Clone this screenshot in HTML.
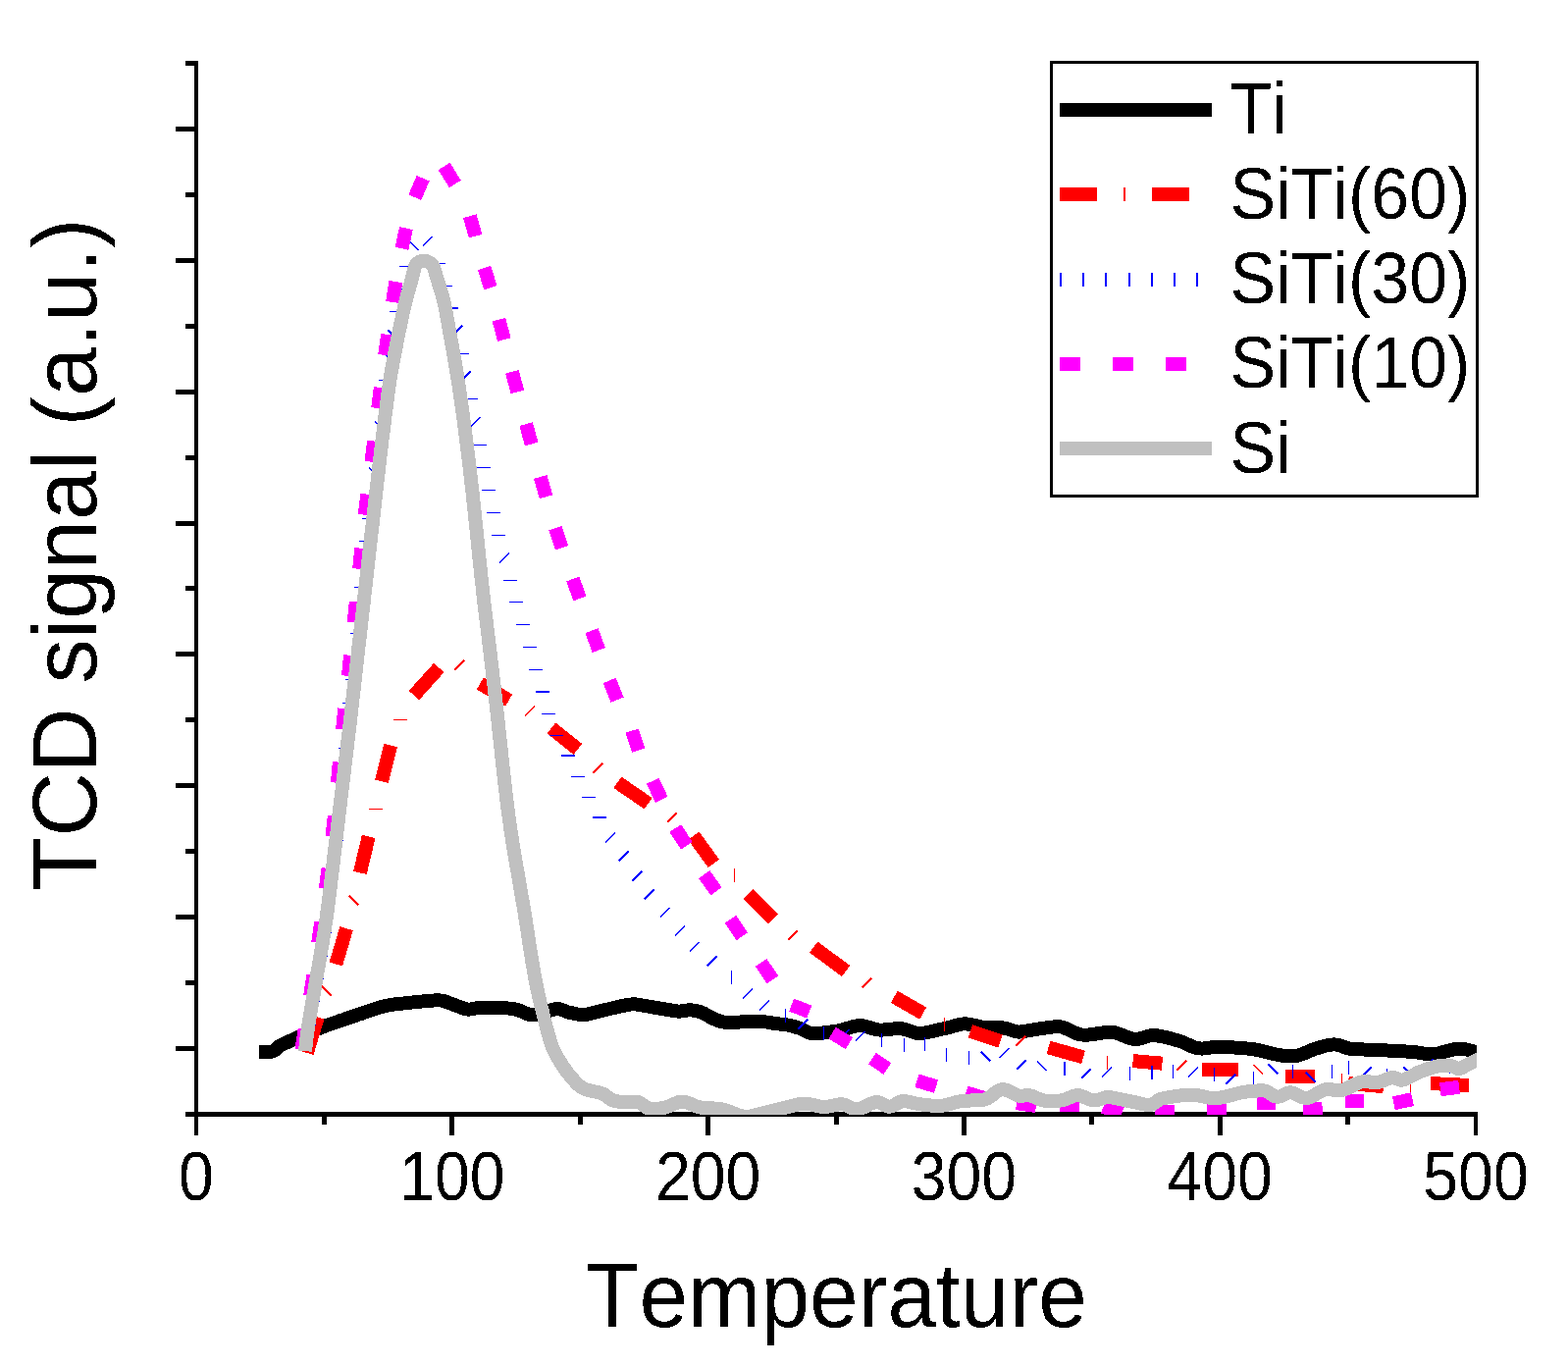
<!DOCTYPE html>
<html lang="en">
<head>
<meta charset="utf-8">
<title>TCD signal vs Temperature</title>
<style>
html,body{margin:0;padding:0;background:#fff;}
body{width:1598px;height:1392px;overflow:hidden;}
svg{display:block;font-family:"Liberation Sans", Arial, Helvetica, sans-serif;font-kerning:none;}
</style>
</head>
<body>
<svg width="1598" height="1392" viewBox="0 0 1598 1392">
<rect x="0" y="0" width="1598" height="1392" fill="#fff"/>
<defs><filter id="bin" x="-5%" y="-5%" width="110%" height="110%" color-interpolation-filters="sRGB"><feComponentTransfer><feFuncA type="discrete" tableValues="0 1"/></feComponentTransfer></filter></defs>
<g id="axes" shape-rendering="crispEdges"><rect x="198" y="62" width="4" height="1076" fill="#000"/><rect x="189" y="1133" width="1317" height="5" fill="#000"/><rect x="189" y="62" width="9" height="5" fill="#000"/><rect x="179" y="129" width="19" height="5" fill="#000"/><rect x="189" y="196" width="9" height="5" fill="#000"/><rect x="179" y="263" width="19" height="5" fill="#000"/><rect x="189" y="330" width="9" height="5" fill="#000"/><rect x="179" y="397" width="19" height="5" fill="#000"/><rect x="189" y="464" width="9" height="5" fill="#000"/><rect x="179" y="531" width="19" height="5" fill="#000"/><rect x="189" y="597" width="9" height="5" fill="#000"/><rect x="179" y="664" width="19" height="5" fill="#000"/><rect x="189" y="731" width="9" height="5" fill="#000"/><rect x="179" y="798" width="19" height="5" fill="#000"/><rect x="189" y="865" width="9" height="5" fill="#000"/><rect x="179" y="932" width="19" height="5" fill="#000"/><rect x="189" y="999" width="9" height="5" fill="#000"/><rect x="179" y="1066" width="19" height="5" fill="#000"/><rect x="189" y="1133" width="9" height="5" fill="#000"/><rect x="198" y="1138" width="4" height="19" fill="#000"/><rect x="328" y="1138" width="5" height="8" fill="#000"/><rect x="458" y="1138" width="5" height="19" fill="#000"/><rect x="589" y="1138" width="5" height="8" fill="#000"/><rect x="719" y="1138" width="5" height="19" fill="#000"/><rect x="850" y="1138" width="5" height="8" fill="#000"/><rect x="980" y="1138" width="5" height="19" fill="#000"/><rect x="1110" y="1138" width="5" height="8" fill="#000"/><rect x="1241" y="1138" width="5" height="19" fill="#000"/><rect x="1371" y="1138" width="5" height="8" fill="#000"/><rect x="1502" y="1138" width="4" height="19" fill="#000"/></g>
<g id="xticklabels" fill="#000" filter="url(#bin)"><text transform="translate(200.0 1222.6) scale(0.92 1)" text-anchor="middle" font-size="70">0</text><text transform="translate(460.8 1222.6) scale(0.92 1)" text-anchor="middle" font-size="70">100</text><text transform="translate(721.6 1222.6) scale(0.92 1)" text-anchor="middle" font-size="70">200</text><text transform="translate(982.4 1222.6) scale(0.92 1)" text-anchor="middle" font-size="70">300</text><text transform="translate(1243.2 1222.6) scale(0.92 1)" text-anchor="middle" font-size="70">400</text><text transform="translate(1504.0 1222.6) scale(0.92 1)" text-anchor="middle" font-size="70">500</text></g>
<g id="titles" fill="#000" filter="url(#bin)"><text transform="translate(596.98 1352.00) scale(0.9597 1)" font-size="93">Temperature</text><text transform="translate(98.00 908.06) rotate(-90) scale(0.9754 1)" font-size="93">TCD signal (a.u.)</text></g>
<defs><clipPath id="plotclip"><rect x="202" y="0" width="1303" height="1136"/></clipPath></defs>
<g id="data" clip-path="url(#plotclip)" shape-rendering="crispEdges" fill="none">
<path id="c-ti" d="M264 1072 L266 1072.1 L268 1072.1 L270 1072.1 L272 1072 L274 1071.9 L276 1071.7 L278 1071.3 L280 1070.2 L282 1068.3 L284 1066.5 L286 1065.4 L288 1064.4 L290 1063.4 L292 1062.5 L294 1061.5 L296 1060.6 L298 1059.7 L300 1058.8 L302 1057.9 L304 1057 L306 1056.2 L308 1055.3 L310 1054.4 L312 1053.5 L314 1052.7 L316 1051.8 L318 1051 L320 1050.2 L322 1049.3 L324 1048.5 L326 1047.7 L328 1046.9 L330 1046.1 L332 1045.3 L334 1044.6 L336 1043.9 L338 1043.2 L340 1042.5 L342 1041.8 L344 1041.1 L346 1040.4 L348 1039.7 L350 1039.1 L352 1038.4 L354 1037.7 L356 1037 L358 1036.4 L360 1035.7 L362 1035 L364 1034.3 L366 1033.6 L368 1033 L370 1032.3 L372 1031.6 L374 1030.9 L376 1030.3 L378 1029.6 L380 1028.9 L382 1028.3 L384 1027.6 L386 1026.9 L388 1026.3 L390 1025.7 L392 1025.2 L394 1024.8 L396 1024.4 L398 1024 L400 1023.7 L402 1023.5 L404 1023.2 L406 1023 L408 1022.8 L410 1022.6 L412 1022.4 L414 1022.2 L416 1021.9 L418 1021.7 L420 1021.5 L422 1021.3 L424 1021.1 L426 1020.9 L428 1020.7 L430 1020.5 L432 1020.3 L434 1020.1 L436 1019.9 L438 1019.8 L440 1019.6 L442 1019.5 L444 1019.4 L446 1019.4 L448 1019.4 L450 1019.6 L452 1020 L454 1020.6 L456 1021.4 L458 1022.1 L460 1022.9 L462 1023.6 L464 1024.4 L466 1025.1 L468 1025.9 L470 1026.7 L472 1027.4 L474 1028 L476 1028.5 L478 1028.6 L480 1028.4 L482 1028 L484 1027.6 L486 1027.3 L488 1027.2 L490 1027.1 L492 1027 L494 1026.9 L496 1026.8 L498 1026.8 L500 1026.7 L502 1026.7 L504 1026.7 L506 1026.7 L508 1026.8 L510 1026.9 L512 1027 L514 1027.1 L516 1027.3 L518 1027.5 L520 1027.7 L522 1028 L524 1028.3 L526 1028.7 L528 1029.2 L530 1030 L532 1030.9 L534 1031.8 L536 1032.7 L538 1033.4 L540 1034 L542 1034.3 L544 1034.2 L546 1033.9 L548 1033.4 L550 1032.9 L552 1032.3 L554 1031.8 L556 1031.2 L558 1030.6 L560 1029.9 L562 1029.3 L564 1028.7 L566 1028.3 L568 1028.1 L570 1028.3 L572 1028.8 L574 1029.5 L576 1030.3 L578 1031.1 L580 1031.7 L582 1032.1 L584 1032.5 L586 1032.9 L588 1033.4 L590 1033.7 L592 1034 L594 1034.1 L596 1034.1 L598 1033.7 L600 1033.3 L602 1032.8 L604 1032.3 L606 1031.9 L608 1031.3 L610 1030.8 L612 1030.3 L614 1029.8 L616 1029.3 L618 1028.8 L620 1028.4 L622 1027.9 L624 1027.4 L626 1027 L628 1026.5 L630 1026 L632 1025.6 L634 1025.1 L636 1024.7 L638 1024.2 L640 1023.9 L642 1023.6 L644 1023.4 L646 1023.4 L648 1023.4 L650 1023.7 L652 1024 L654 1024.4 L656 1024.7 L658 1025.1 L660 1025.4 L662 1025.8 L664 1026.1 L666 1026.5 L668 1026.8 L670 1027.2 L672 1027.5 L674 1027.8 L676 1028.2 L678 1028.5 L680 1028.8 L682 1029.2 L684 1029.5 L686 1029.8 L688 1030.2 L690 1030.5 L692 1030.6 L694 1030.5 L696 1030.2 L698 1029.8 L700 1029.5 L702 1029.3 L704 1029.4 L706 1029.5 L708 1029.8 L710 1030.2 L712 1030.7 L714 1031.3 L716 1032.1 L718 1033 L720 1034.2 L722 1035.4 L724 1036.5 L726 1037.6 L728 1038.5 L730 1039.2 L732 1040 L734 1040.7 L736 1041.2 L738 1041.6 L740 1041.7 L742 1041.7 L744 1041.7 L746 1041.6 L748 1041.6 L750 1041.6 L752 1041.5 L754 1041.5 L756 1041.4 L758 1041.4 L760 1041.4 L762 1041.3 L764 1041.3 L766 1041.3 L768 1041.3 L770 1041.2 L772 1041.2 L774 1041.2 L776 1041.2 L778 1041.2 L780 1041.4 L782 1041.6 L784 1041.9 L786 1042.3 L788 1042.7 L790 1043 L792 1043.2 L794 1043.5 L796 1043.7 L798 1043.9 L800 1044.1 L802 1044.4 L804 1044.7 L806 1045.2 L808 1045.7 L810 1046.3 L812 1047 L814 1047.6 L816 1048.3 L818 1049.1 L820 1050.1 L822 1051.2 L824 1052.1 L826 1052.8 L828 1053.1 L830 1053.2 L832 1053.2 L834 1053 L836 1052.8 L838 1052.5 L840 1052.3 L842 1052.1 L844 1051.8 L846 1051.6 L848 1051.3 L850 1051 L852 1050.8 L854 1050.5 L856 1050 L858 1049.5 L860 1049 L862 1048.3 L864 1047.7 L866 1047.1 L868 1046.5 L870 1046 L872 1045.6 L874 1045.2 L876 1045 L878 1045.1 L880 1045.4 L882 1045.8 L884 1046.4 L886 1047 L888 1047.7 L890 1048.3 L892 1048.9 L894 1049.3 L896 1049.5 L898 1049.5 L900 1049.5 L902 1049.3 L904 1049.2 L906 1048.9 L908 1048.7 L910 1048.5 L912 1048.3 L914 1048.2 L916 1048.2 L918 1048.2 L920 1048.5 L922 1048.9 L924 1049.5 L926 1050.2 L928 1050.9 L930 1051.6 L932 1052.3 L934 1052.8 L936 1053.1 L938 1053.2 L940 1053 L942 1052.6 L944 1052.3 L946 1051.9 L948 1051.4 L950 1051 L952 1050.5 L954 1050.1 L956 1049.6 L958 1049.1 L960 1048.6 L962 1048.2 L964 1047.7 L966 1047.2 L968 1046.7 L970 1046.1 L972 1045.6 L974 1045 L976 1044.5 L978 1044 L980 1043.6 L982 1043.4 L984 1043.4 L986 1043.5 L988 1043.8 L990 1044.2 L992 1044.6 L994 1045.1 L996 1045.6 L998 1046 L1000 1046.4 L1002 1046.6 L1004 1046.8 L1006 1046.9 L1008 1046.9 L1010 1047 L1012 1047 L1014 1047.1 L1016 1047.1 L1018 1047.2 L1020 1047.3 L1022 1047.4 L1024 1047.8 L1026 1048.3 L1028 1048.9 L1030 1049.6 L1032 1050.3 L1034 1050.9 L1036 1051.3 L1038 1051.6 L1040 1051.5 L1042 1051.2 L1044 1051 L1046 1050.6 L1048 1050.3 L1050 1050 L1052 1049.6 L1054 1049.3 L1056 1048.9 L1058 1048.6 L1060 1048.3 L1062 1048 L1064 1047.7 L1066 1047.4 L1068 1047.2 L1070 1046.9 L1072 1046.6 L1074 1046.4 L1076 1046.1 L1078 1046 L1080 1046.2 L1082 1046.6 L1084 1047.2 L1086 1048 L1088 1048.9 L1090 1049.9 L1092 1050.8 L1094 1051.8 L1096 1052.7 L1098 1053.4 L1100 1054 L1102 1054.4 L1104 1054.6 L1106 1054.7 L1108 1054.6 L1110 1054.5 L1112 1054.2 L1114 1054 L1116 1053.7 L1118 1053.3 L1120 1053 L1122 1052.7 L1124 1052.4 L1126 1052.1 L1128 1052 L1130 1051.9 L1132 1051.9 L1134 1052 L1136 1052.3 L1138 1052.8 L1140 1053.5 L1142 1054.2 L1144 1055 L1146 1055.9 L1148 1056.7 L1150 1057.4 L1152 1058.1 L1154 1058.6 L1156 1058.9 L1158 1058.9 L1160 1058.7 L1162 1058.3 L1164 1057.8 L1166 1057.1 L1168 1056.5 L1170 1055.9 L1172 1055.4 L1174 1055.1 L1176 1055 L1178 1055.1 L1180 1055.5 L1182 1055.8 L1184 1056.2 L1186 1056.6 L1188 1057.1 L1190 1057.5 L1192 1058 L1194 1058.6 L1196 1059.1 L1198 1059.7 L1200 1060.3 L1202 1060.9 L1204 1061.5 L1206 1062.3 L1208 1063.2 L1210 1064.1 L1212 1065 L1214 1066 L1216 1066.8 L1218 1067.5 L1220 1068 L1222 1068.4 L1224 1068.5 L1226 1068.5 L1228 1068.3 L1230 1068 L1232 1067.7 L1234 1067.4 L1236 1067.2 L1238 1067 L1240 1067 L1242 1067 L1244 1067.1 L1246 1067.1 L1248 1067.2 L1250 1067.2 L1252 1067.3 L1254 1067.4 L1256 1067.4 L1258 1067.5 L1260 1067.6 L1262 1067.7 L1264 1067.9 L1266 1068 L1268 1068.2 L1270 1068.4 L1272 1068.6 L1274 1068.8 L1276 1069 L1278 1069.3 L1280 1069.7 L1282 1070.1 L1284 1070.6 L1286 1071 L1288 1071.5 L1290 1072 L1292 1072.6 L1294 1073.1 L1296 1073.5 L1298 1074 L1300 1074.4 L1302 1074.8 L1304 1075.1 L1306 1075.5 L1308 1075.8 L1310 1076 L1312 1076.2 L1314 1076.3 L1316 1076.3 L1318 1076.2 L1320 1076 L1322 1075.7 L1324 1075.2 L1326 1074.5 L1328 1073.8 L1330 1073 L1332 1072.1 L1334 1071.2 L1336 1070.4 L1338 1069.6 L1340 1068.9 L1342 1068.3 L1344 1067.7 L1346 1067 L1348 1066.5 L1350 1065.9 L1352 1065.4 L1354 1065 L1356 1064.7 L1358 1064.5 L1360 1064.4 L1362 1064.6 L1364 1065 L1366 1065.6 L1368 1066.3 L1370 1067 L1372 1067.7 L1374 1068.3 L1376 1068.7 L1378 1068.9 L1380 1069 L1382 1069.1 L1384 1069.2 L1386 1069.3 L1388 1069.4 L1390 1069.5 L1392 1069.6 L1394 1069.7 L1396 1069.8 L1398 1069.9 L1400 1070 L1402 1070.1 L1404 1070.1 L1406 1070.2 L1408 1070.3 L1410 1070.4 L1412 1070.4 L1414 1070.5 L1416 1070.6 L1418 1070.7 L1420 1070.7 L1422 1070.8 L1424 1070.9 L1426 1071 L1428 1071.2 L1430 1071.3 L1432 1071.4 L1434 1071.6 L1436 1071.7 L1438 1071.9 L1440 1072 L1442 1072.2 L1444 1072.4 L1446 1072.7 L1448 1073.1 L1450 1073.4 L1452 1073.7 L1454 1074 L1456 1074.2 L1458 1074.3 L1460 1074.3 L1462 1074.2 L1464 1073.9 L1466 1073.4 L1468 1072.9 L1470 1072.3 L1472 1071.7 L1474 1071.2 L1476 1070.7 L1478 1070.3 L1480 1069.8 L1482 1069.3 L1484 1068.9 L1486 1068.7 L1488 1068.6 L1490 1068.7 L1492 1069 L1494 1069.4 L1496 1069.9 L1498 1070.4 L1500 1070.9 L1502 1071.4 L1504 1071.8 L1506 1072.2 L1508 1072.5 L1510 1072.7 L1512 1073" stroke="#000" stroke-width="14.0" stroke-linejoin="round"/>
<g id="c-siti60"><polygon points="306.1,1070.9 317.1,1034.5 330.5,1038.5 319.5,1074.9" fill="#f00"/><polygon points="335.6,980.5 346.4,944.1 359.8,948.1 349,984.5" fill="#f00"/><polygon points="360.1,887.8 368.9,850.8 382.5,854 373.7,891" fill="#f00"/><polygon points="382.2,794.6 391.4,757.8 405,761.2 395.8,798" fill="#f00"/><polygon points="416.7,703.9 442.1,675.7 452.5,685.1 427.1,713.3" fill="#f00"/><polygon points="492.8,690.5 522.2,707.5 515.2,719.7 485.8,702.7" fill="#f00"/><polygon points="566.3,736.5 593.3,758 584.5,768.9 557.5,747.4" fill="#f00"/><polygon points="633.3,791.5 664.6,813 656.7,824.5 625.4,803" fill="#f00"/><polygon points="712.5,847.5 733,875.8 721.7,884.1 701.2,855.8" fill="#f00"/><polygon points="767.4,906.4 792.9,931.9 783,941.8 757.5,916.3" fill="#f00"/><polygon points="833.3,959.5 866.2,983.9 857.9,995.1 825,970.7" fill="#f00"/><polygon points="914.7,1009.7 944.2,1026.5 937.3,1038.7 907.8,1021.9" fill="#f00"/><polygon points="991.2,1044.2 1021.6,1054.3 1017.2,1067.6 986.8,1057.5" fill="#f00"/><polygon points="1070.4,1060.7 1106,1070.7 1102.2,1084.1 1066.6,1074.1" fill="#f00"/><polygon points="1155.2,1074.1 1185.1,1076.7 1183.8,1090.7 1153.9,1088.1" fill="#f00"/><polygon points="1225,1083 1262,1083 1262,1097 1225,1097" fill="#f00"/><polygon points="1310.3,1089.5 1340.2,1090.5 1339.7,1104.5 1309.8,1103.5" fill="#f00"/><polygon points="1374.7,1097.1 1410.5,1100.2 1409.3,1114.1 1373.5,1111" fill="#f00"/><polygon points="1458.4,1097 1497.3,1099 1496.6,1113 1457.7,1111" fill="#f00"/><path d="M328 1005L337.8 1014.8M355.6 912.6L365.4 922.4M463.1 682.7L472.9 672.9M535.2 729.4L545 719.6M604.4 787.8L614.2 778M680.2 838.1L690 828.3M802.9 957.8L812.7 948M878.5 1006.3L888.3 996.5M1035.5 1065.7L1045.3 1055.9M1199.4 1090.8L1209.2 1081M1277.4 1085L1287.2 1094.8" stroke="#f00" stroke-width="1.9"/><path d="M376 824h14v1h-14zM401 733h14v1h-14zM748 885h1v14h-1zM962 1037h1v14h-1zM1128 1076h1v14h-1zM1367 1094h1v14h-1zM1437 1100h1v14h-1z" fill="#f00"/></g>
<g id="c-siti30"><path d="M395.2 336.1L405 345.9M391.5 359.4L401.4 369.2M382.3 429.7L392.2 439.6M376 476.6L385.9 486.5M416.5 245L426.3 254.8M430.7 250.6L440.5 240.8M461.6 341.4L471.4 331.6M470.1 387.9L479.9 378.1M479.8 434.9L489.6 425.1M509.2 573.5L519 563.7M617.1 858.2L626.9 848.4M630.9 877.2L640.7 867.4M644.4 897.7L654.2 887.9M656.7 916.2L666.5 906.4M672.9 934.7L682.7 924.9M688 953.5L697.8 943.7M703 969.8L712.8 960M721 984.1L730.8 974.3M757.1 1017.2L766.9 1007.4M774 1029.3L783.8 1019.5M813.4 1048.7L823.2 1038.9M855.9 1058.8L865.7 1049M872 1060.8L881.8 1051M999.7 1071.6L1009.5 1081.4M1018.5 1077.7L1028.3 1067.9M1036.1 1089.9L1045.9 1080.1M1057 1081.3L1066.8 1091.1M1102.1 1098.8L1111.9 1089M1123.1 1097.3L1132.9 1087.5M1210.9 1097.3L1220.7 1087.5M1249.5 1104.6L1259.3 1094.8M1292.4 1084.4L1302.2 1094.2M1330.8 1092.9L1340.6 1102.7M1388 1097.1L1397.8 1087.3M1430.1 1087.1L1439.9 1096.9M1450.7 1089.2L1460.5 1079.4" stroke="#00f" stroke-width="1.6"/><path d="M407 271h14v1h-14zM402 294h14v1h-14zM397 317h14v1h-14zM386 387h14v1h-14zM383 411h14v1h-14zM377 458h14v1h-14zM372 504h14v1h-14zM369 528h14v1h-14zM366 551h14v1h-14zM364 575h14v1h-14zM361 598h14v1h-14zM359 622h14v1h-14zM357 645h14v1h-14zM354 669h14v1h-14zM352 692h14v1h-14zM349 716h14v1h-14zM347 739h14v1h-14zM345 762h14v1h-14zM343 786h14v1h-14zM341 809h14v1h-14zM338 833h14v1h-14zM336 856h14v1h-14zM333 880h14v1h-14zM330 903h14v1h-14zM327 927h14v1h-14zM324 950h14v1h-14zM320 974h14v1h-14zM316 997h14v1h-14zM312 1020h14v1h-14zM308 1044h14v1h-14zM440 268h14v1h-14zM447 291h14v1h-14zM453 313h14v2h-14zM464 360h14v1h-14zM473 406h14v1h-14zM482 453h14v1h-14zM486 476h14v1h-14zM491 499h14v1h-14zM496 522h14v1h-14zM501 545h14v1h-14zM513 591h14v1h-14zM519 613h14v1h-14zM526 636h14v1h-14zM533 659h14v1h-14zM539 682h14v1h-14zM546 704h14v2h-14zM552 727h14v1h-14zM560 749h14v1h-14zM572 769h14v2h-14zM582 791h14v1h-14zM593 812h14v1h-14zM604 832h14v2h-14zM745 989h1v14h-1zM800 1028h1v14h-1zM839 1046h1v14h-1zM898 1053h1v14h-1zM921 1058h1v14h-1zM942 1057h1v14h-1zM964 1068h1v14h-1zM987 1071h1v14h-1zM1084 1082h2v14h-2zM1151 1087h1v14h-1zM1173 1086h2v14h-2zM1195 1085h1v14h-1zM1237 1088h1v14h-1zM1277 1092h1v14h-1zM1317 1085h1v14h-1zM1357 1085h1v14h-1zM1374 1081h1v14h-1zM1413 1089h1v14h-1zM1477 1080h1v14h-1z" fill="#00f"/></g>
<g id="c-siti10"><polygon points="300.5,1068.6 303.8,1047.6 317.7,1049.8 314.4,1070.8" fill="#f0f"/><polygon points="309.2,1013.9 312.4,993 326.2,995.1 323,1016" fill="#f0f"/><polygon points="317.3,959.8 320.3,938.8 334.1,940.8 331.1,961.8" fill="#f0f"/><polygon points="324.9,905 327.6,884 341.5,885.8 338.8,906.8" fill="#f0f"/><polygon points="331.6,851.6 333.9,830.5 347.8,832 345.5,853.1" fill="#f0f"/><polygon points="336.9,797.1 338.9,776 352.9,777.3 350.9,798.4" fill="#f0f"/><polygon points="342.2,742.5 344.3,721.4 358.2,722.9 356.1,744" fill="#f0f"/><polygon points="347.9,688.2 350.2,667.1 364.1,668.6 361.8,689.7" fill="#f0f"/><polygon points="353.7,633.7 355.8,612.6 369.7,614.1 367.6,635.2" fill="#f0f"/><polygon points="359.2,579.1 361.3,558 375.2,559.5 373.1,580.6" fill="#f0f"/><polygon points="364.8,523.9 367.3,502.9 381.2,504.5 378.7,525.5" fill="#f0f"/><polygon points="371.5,469.8 374.2,448.7 388.1,450.4 385.4,471.5" fill="#f0f"/><polygon points="378.2,415.1 380.9,394.1 394.8,395.9 392.1,416.9" fill="#f0f"/><polygon points="385.3,361 388.2,340 402.1,342 399.2,363" fill="#f0f"/><polygon points="393.2,306.9 396.4,286 410.2,288.1 407,309" fill="#f0f"/><polygon points="402.6,251.8 407.1,231.1 420.8,234 416.3,254.7" fill="#f0f"/><polygon points="416.4,198.4 424.7,178.9 437.6,184.4 429.3,203.9" fill="#f0f"/><polygon points="458.6,165.8 469.8,183.8 457.9,191.2 446.7,173.2" fill="#f0f"/><polygon points="485.6,218.3 491.4,238.7 477.9,242.5 472.1,222.1" fill="#f0f"/><polygon points="500.3,270.9 506.5,291.2 493.2,295.3 487,275" fill="#f0f"/><polygon points="515.2,323.8 520.6,344.3 507.1,347.9 501.7,327.4" fill="#f0f"/><polygon points="528.8,377.1 534.1,397.6 520.5,401.1 515.2,380.6" fill="#f0f"/><polygon points="542.9,430.3 548.4,450.7 534.9,454.4 529.4,434" fill="#f0f"/><polygon points="557.5,484 563.3,504.4 549.8,508.2 544,487.8" fill="#f0f"/><polygon points="572.6,536 579.2,556.1 565.9,560.4 559.3,540.3" fill="#f0f"/><polygon points="590.4,587.7 597.5,607.6 584.3,612.3 577.2,592.4" fill="#f0f"/><polygon points="609.6,640.2 616.9,660.1 603.7,665 596.4,645.1" fill="#f0f"/><polygon points="627.7,690.8 635.6,710.5 622.6,715.8 614.7,696.1" fill="#f0f"/><polygon points="650.7,742.5 657.3,762.6 644,766.9 637.4,746.8" fill="#f0f"/><polygon points="671.6,792.7 680.6,811.9 667.9,817.9 658.9,798.7" fill="#f0f"/><polygon points="694.1,840.2 705.7,858 694,865.6 682.4,847.8" fill="#f0f"/><polygon points="723.3,887 735.7,904.2 724.4,912.4 712,895.2" fill="#f0f"/><polygon points="750.2,932.8 762.1,950.4 750.5,958.2 738.6,940.6" fill="#f0f"/><polygon points="781.5,977.1 793.3,994.5 781.7,1002.3 769.9,984.9" fill="#f0f"/><polygon points="809.1,1017.6 827.3,1024.6 822.3,1037.6 804.1,1030.6" fill="#f0f"/><polygon points="851.8,1046.7 869,1057.1 861.8,1069.1 844.6,1058.7" fill="#f0f"/><polygon points="892.8,1072.8 908.2,1083.2 900.4,1094.8 885,1084.4" fill="#f0f"/><polygon points="936.5,1094.5 956.1,1100.5 952.1,1113.9 932.5,1107.9" fill="#f0f"/><polygon points="986.5,1106.6 1005.6,1112.4 1001.5,1125.8 982.4,1120" fill="#f0f"/><polygon points="1037.1,1117.3 1056.9,1120.1 1054.9,1133.9 1035.1,1131.1" fill="#f0f"/><polygon points="1080,1119.4 1100,1119.4 1100,1133.4 1080,1133.4" fill="#f0f"/><polygon points="1126.9,1121.2 1145.7,1128 1140.9,1141.2 1122.1,1134.4" fill="#f0f"/><polygon points="1177,1126 1197,1126 1197,1140 1177,1140" fill="#f0f"/><polygon points="1229.5,1125 1250,1125 1250,1139 1229.5,1139" fill="#f0f"/><polygon points="1281.2,1116.6 1300.2,1116.6 1300.2,1130.6 1281.2,1130.6" fill="#f0f"/><polygon points="1327.8,1123.5 1347.3,1122.5 1348,1136.5 1328.5,1137.5" fill="#f0f"/><polygon points="1370.9,1115.4 1389.8,1114.8 1390.3,1128.8 1371.4,1129.4" fill="#f0f"/><polygon points="1418.9,1117.4 1438,1113.3 1440.9,1127 1421.8,1131.1" fill="#f0f"/><polygon points="1467,1103.2 1486.3,1100.9 1488,1114.8 1468.7,1117.1" fill="#f0f"/></g>
<path id="c-si" d="M310.9 1071.1 L310.9 1070.2 L311.3 1068.8 L311.5 1066.8 L311.7 1064.8 L311.9 1062.8 L312.1 1060.8 L312.3 1058.8 L312.6 1056.9 L312.8 1054.9 L313.1 1052.9 L313.4 1050.9 L313.7 1048.9 L314 1046.9 L314.3 1045 L314.6 1043 L315 1041 L315.3 1039 L315.6 1037.1 L315.9 1035.1 L316.3 1033.1 L316.6 1031.1 L316.9 1029.2 L317.3 1027.2 L317.6 1025.2 L317.9 1023.2 L318.3 1021.3 L318.6 1019.3 L318.9 1017.3 L319.3 1015.4 L319.6 1013.4 L320 1011.4 L320.3 1009.4 L320.6 1007.5 L321 1005.5 L321.3 1003.5 L321.7 1001.5 L322 999.6 L322.4 997.6 L322.7 995.6 L323 993.7 L323.4 991.7 L323.7 989.7 L324.1 987.7 L324.4 985.8 L324.8 983.8 L325.1 981.8 L325.4 979.8 L325.8 977.9 L326.1 975.9 L326.5 973.9 L326.8 971.9 L327.1 970 L327.5 968 L327.8 966 L328.1 964 L328.5 962.1 L328.8 960.1 L329.1 958.1 L329.4 956.1 L329.7 954.2 L330.1 952.2 L330.4 950.2 L330.7 948.2 L331 946.3 L331.3 944.3 L331.6 942.3 L331.9 940.3 L332.2 938.3 L332.5 936.4 L332.7 934.4 L333 932.4 L333.3 930.4 L333.6 928.4 L333.8 926.4 L334.1 924.4 L334.3 922.5 L334.6 920.5 L334.8 918.5 L335.1 916.5 L335.3 914.5 L335.6 912.5 L335.8 910.5 L336.1 908.6 L336.3 906.6 L336.6 904.6 L336.8 902.6 L337 900.6 L337.3 898.6 L337.5 896.6 L337.8 894.6 L338 892.7 L338.3 890.7 L338.5 888.7 L338.7 886.7 L339 884.7 L339.2 882.7 L339.5 880.7 L339.7 878.7 L339.9 876.7 L340.2 874.8 L340.4 872.8 L340.6 870.8 L340.9 868.8 L341.1 866.8 L341.4 864.8 L341.6 862.8 L341.8 860.8 L342.1 858.9 L342.3 856.9 L342.5 854.9 L342.8 852.9 L343 850.9 L343.3 848.9 L343.5 846.9 L343.7 844.9 L344 843 L344.2 841 L344.4 839 L344.7 837 L344.9 835 L345.1 833 L345.4 831 L345.6 829 L345.9 827 L346.1 825.1 L346.3 823.1 L346.6 821.1 L346.8 819.1 L347 817.1 L347.3 815.1 L347.5 813.1 L347.7 811.1 L348 809.2 L348.2 807.2 L348.5 805.2 L348.7 803.2 L348.9 801.2 L349.2 799.2 L349.4 797.2 L349.6 795.2 L349.9 793.2 L350.1 791.3 L350.4 789.3 L350.6 787.3 L350.8 785.3 L351.1 783.3 L351.3 781.3 L351.6 779.3 L351.8 777.3 L352 775.4 L352.3 773.4 L352.5 771.4 L352.8 769.4 L353 767.4 L353.2 765.4 L353.5 763.4 L353.7 761.4 L354 759.5 L354.2 757.5 L354.4 755.5 L354.7 753.5 L354.9 751.5 L355.2 749.5 L355.4 747.5 L355.6 745.5 L355.9 743.5 L356.1 741.6 L356.3 739.6 L356.6 737.6 L356.8 735.6 L357 733.6 L357.2 731.6 L357.5 729.6 L357.7 727.6 L357.9 725.6 L358.2 723.7 L358.4 721.7 L358.6 719.7 L358.8 717.7 L359.1 715.7 L359.3 713.7 L359.5 711.7 L359.7 709.7 L360 707.7 L360.2 705.8 L360.4 703.8 L360.7 701.8 L360.9 699.8 L361.1 697.8 L361.3 695.8 L361.6 693.8 L361.8 691.8 L362 689.8 L362.2 687.8 L362.5 685.9 L362.7 683.9 L362.9 681.9 L363.1 679.9 L363.4 677.9 L363.6 675.9 L363.8 673.9 L364 671.9 L364.3 669.9 L364.5 668 L364.7 666 L364.9 664 L365.2 662 L365.4 660 L365.6 658 L365.9 656 L366.1 654 L366.3 652 L366.5 650.1 L366.8 648.1 L367 646.1 L367.2 644.1 L367.4 642.1 L367.7 640.1 L367.9 638.1 L368.1 636.1 L368.3 634.1 L368.6 632.1 L368.8 630.2 L369 628.2 L369.2 626.2 L369.5 624.2 L369.7 622.2 L369.9 620.2 L370.1 618.2 L370.4 616.2 L370.6 614.2 L370.8 612.2 L371 610.3 L371.3 608.3 L371.5 606.3 L371.7 604.3 L371.9 602.3 L372.2 600.3 L372.4 598.3 L372.6 596.3 L372.8 594.3 L373.1 592.4 L373.3 590.4 L373.5 588.4 L373.7 586.4 L373.9 584.4 L374.2 582.4 L374.4 580.4 L374.6 578.4 L374.8 576.4 L375.1 574.4 L375.3 572.5 L375.5 570.5 L375.7 568.5 L376 566.5 L376.2 564.5 L376.4 562.5 L376.6 560.5 L376.9 558.5 L377.1 556.5 L377.3 554.5 L377.5 552.6 L377.8 550.6 L378 548.6 L378.2 546.6 L378.4 544.6 L378.7 542.6 L378.9 540.6 L379.1 538.6 L379.3 536.6 L379.6 534.7 L379.8 532.7 L380 530.7 L380.2 528.7 L380.5 526.7 L380.7 524.7 L380.9 522.7 L381.1 520.7 L381.4 518.7 L381.6 516.7 L381.8 514.8 L382 512.8 L382.3 510.8 L382.5 508.8 L382.7 506.8 L382.9 504.8 L383.2 502.8 L383.4 500.8 L383.6 498.8 L383.8 496.9 L384.1 494.9 L384.3 492.9 L384.5 490.9 L384.7 488.9 L385 486.9 L385.2 484.9 L385.4 482.9 L385.7 480.9 L385.9 478.9 L386.1 477 L386.3 475 L386.6 473 L386.8 471 L387 469 L387.3 467 L387.5 465 L387.7 463 L388 461.1 L388.2 459.1 L388.5 457.1 L388.7 455.1 L388.9 453.1 L389.2 451.1 L389.4 449.1 L389.6 447.1 L389.9 445.1 L390.1 443.2 L390.4 441.2 L390.6 439.2 L390.9 437.2 L391.1 435.2 L391.4 433.2 L391.6 431.2 L391.8 429.3 L392.1 427.3 L392.3 425.3 L392.6 423.3 L392.8 421.3 L393.1 419.3 L393.4 417.3 L393.6 415.3 L393.9 413.4 L394.1 411.4 L394.4 409.4 L394.6 407.4 L394.9 405.4 L395.1 403.4 L395.4 401.4 L395.7 399.5 L395.9 397.5 L396.2 395.5 L396.5 393.5 L396.8 391.5 L397.1 389.6 L397.4 387.6 L397.7 385.6 L398.1 383.6 L398.4 381.6 L398.7 379.7 L399.1 377.7 L399.4 375.7 L399.8 373.8 L400.1 371.8 L400.5 369.8 L400.9 367.8 L401.2 365.9 L401.6 363.9 L402 361.9 L402.3 360 L402.7 358 L403.1 356 L403.5 354.1 L403.9 352.1 L404.2 350.1 L404.6 348.2 L405 346.2 L405.4 344.2 L405.8 342.3 L406.2 340.3 L406.6 338.4 L407 336.4 L407.4 334.4 L407.8 332.5 L408.2 330.5 L408.6 328.6 L409 326.6 L409.5 324.6 L409.9 322.7 L410.3 320.7 L410.7 318.8 L411.2 316.8 L411.6 314.9 L412.1 312.9 L412.5 311 L413 309 L413.5 307.1 L414 305.1 L414.5 303.2 L415 301.3 L415.5 299.3 L416.1 297.4 L416.6 295.5 L417.2 293.5 L417.7 291.6 L418.2 289.7 L418.8 287.8 L419.3 285.8 L419.8 283.9 L420.3 282 L420.7 280 L421.2 278.1 L421.7 276.1 L422.2 274.2 L422.7 272.2 L423.5 270.4 L424.7 268.9 L426.3 267.4 L428.2 266.4 L430.2 265.9 L432.1 265.8 L434 266 L435.9 266.6 L437.9 267.6 L439.6 268.9 L441 270.3 L441.9 272 L442.5 274 L443.1 275.9 L443.7 277.8 L444.2 279.7 L444.8 281.6 L445.4 283.6 L445.9 285.5 L446.5 287.4 L447.1 289.3 L447.7 291.2 L448.3 293.1 L448.9 295 L449.5 296.9 L450.1 298.9 L450.6 300.8 L451.2 302.7 L451.7 304.6 L452.2 306.6 L452.7 308.5 L453.1 310.5 L453.5 312.4 L453.9 314.4 L454.3 316.4 L454.6 318.3 L454.9 320.3 L455.3 322.3 L455.6 324.3 L456 326.2 L456.4 328.2 L456.7 330.2 L457.1 332.2 L457.4 334.1 L457.8 336.1 L458.2 338.1 L458.5 340 L458.9 342 L459.2 344 L459.6 345.9 L459.9 347.9 L460.3 349.9 L460.7 351.9 L461 353.8 L461.4 355.8 L461.7 357.8 L462.1 359.7 L462.4 361.7 L462.8 363.7 L463.1 365.7 L463.4 367.6 L463.8 369.6 L464.1 371.6 L464.4 373.5 L464.8 375.5 L465.1 377.5 L465.4 379.5 L465.8 381.4 L466.1 383.4 L466.4 385.4 L466.7 387.4 L467 389.4 L467.3 391.3 L467.6 393.3 L467.9 395.3 L468.2 397.3 L468.5 399.3 L468.8 401.2 L469.1 403.2 L469.3 405.2 L469.6 407.2 L469.9 409.2 L470.2 411.2 L470.5 413.1 L470.7 415.1 L471 417.1 L471.3 419.1 L471.6 421.1 L471.8 423.1 L472.1 425 L472.4 427 L472.6 429 L472.9 431 L473.1 433 L473.4 435 L473.7 437 L473.9 438.9 L474.2 440.9 L474.4 442.9 L474.7 444.9 L475 446.9 L475.2 448.9 L475.5 450.9 L475.7 452.8 L476 454.8 L476.2 456.8 L476.4 458.8 L476.7 460.8 L476.9 462.8 L477.2 464.8 L477.4 466.8 L477.7 468.7 L477.9 470.7 L478.1 472.7 L478.4 474.7 L478.6 476.7 L478.8 478.7 L479.1 480.7 L479.3 482.7 L479.5 484.6 L479.8 486.6 L480 488.6 L480.2 490.6 L480.4 492.6 L480.7 494.6 L480.9 496.6 L481.1 498.6 L481.3 500.6 L481.6 502.6 L481.8 504.5 L482 506.5 L482.2 508.5 L482.4 510.5 L482.6 512.5 L482.9 514.5 L483.1 516.5 L483.3 518.5 L483.5 520.5 L483.7 522.5 L483.9 524.5 L484.1 526.4 L484.3 528.4 L484.5 530.4 L484.7 532.4 L484.9 534.4 L485.2 536.4 L485.4 538.4 L485.6 540.4 L485.8 542.4 L486 544.4 L486.2 546.4 L486.4 548.4 L486.6 550.3 L486.8 552.3 L487 554.3 L487.2 556.3 L487.4 558.3 L487.6 560.3 L487.8 562.3 L488 564.3 L488.2 566.3 L488.4 568.3 L488.6 570.3 L488.9 572.3 L489.1 574.2 L489.3 576.2 L489.5 578.2 L489.7 580.2 L489.9 582.2 L490.1 584.2 L490.3 586.2 L490.5 588.2 L490.7 590.2 L491 592.2 L491.2 594.2 L491.4 596.1 L491.6 598.1 L491.8 600.1 L492.1 602.1 L492.3 604.1 L492.5 606.1 L492.7 608.1 L493 610.1 L493.2 612.1 L493.4 614.1 L493.6 616 L493.9 618 L494.1 620 L494.3 622 L494.6 624 L494.8 626 L495.1 628 L495.3 630 L495.5 631.9 L495.8 633.9 L496 635.9 L496.3 637.9 L496.5 639.9 L496.7 641.9 L497 643.9 L497.2 645.9 L497.5 647.8 L497.7 649.8 L498 651.8 L498.2 653.8 L498.4 655.8 L498.7 657.8 L498.9 659.8 L499.2 661.8 L499.4 663.7 L499.6 665.7 L499.9 667.7 L500.1 669.7 L500.3 671.7 L500.6 673.7 L500.8 675.7 L501 677.7 L501.3 679.7 L501.5 681.6 L501.7 683.6 L502 685.6 L502.2 687.6 L502.4 689.6 L502.7 691.6 L502.9 693.6 L503.1 695.6 L503.4 697.6 L503.6 699.5 L503.8 701.5 L504 703.5 L504.3 705.5 L504.5 707.5 L504.7 709.5 L504.9 711.5 L505.2 713.5 L505.4 715.5 L505.6 717.5 L505.8 719.4 L506.1 721.4 L506.3 723.4 L506.5 725.4 L506.7 727.4 L506.9 729.4 L507.1 731.4 L507.4 733.4 L507.6 735.4 L507.8 737.4 L508 739.3 L508.2 741.3 L508.4 743.3 L508.6 745.3 L508.9 747.3 L509.1 749.3 L509.3 751.3 L509.5 753.3 L509.7 755.3 L509.9 757.3 L510.1 759.3 L510.3 761.2 L510.6 763.2 L510.8 765.2 L511 767.2 L511.2 769.2 L511.4 771.2 L511.6 773.2 L511.8 775.2 L512.1 777.2 L512.3 779.2 L512.5 781.2 L512.7 783.1 L512.9 785.1 L513.1 787.1 L513.4 789.1 L513.6 791.1 L513.8 793.1 L514 795.1 L514.2 797.1 L514.5 799.1 L514.7 801.1 L514.9 803 L515.2 805 L515.4 807 L515.6 809 L515.9 811 L516.1 813 L516.3 815 L516.6 817 L516.8 818.9 L517.1 820.9 L517.3 822.9 L517.6 824.9 L517.8 826.9 L518.1 828.9 L518.4 830.9 L518.6 832.8 L518.9 834.8 L519.2 836.8 L519.5 838.8 L519.7 840.8 L520 842.8 L520.3 844.7 L520.6 846.7 L520.9 848.7 L521.2 850.7 L521.5 852.7 L521.8 854.6 L522.1 856.6 L522.4 858.6 L522.7 860.6 L523.1 862.6 L523.4 864.5 L523.7 866.5 L524 868.5 L524.4 870.5 L524.7 872.4 L525 874.4 L525.3 876.4 L525.7 878.4 L526 880.3 L526.3 882.3 L526.7 884.3 L527 886.3 L527.4 888.2 L527.7 890.2 L528 892.2 L528.4 894.1 L528.7 896.1 L529.1 898.1 L529.4 900.1 L529.7 902 L530.1 904 L530.4 906 L530.8 908 L531.1 909.9 L531.4 911.9 L531.8 913.9 L532.1 915.9 L532.5 917.8 L532.8 919.8 L533.1 921.8 L533.5 923.7 L533.8 925.7 L534.1 927.7 L534.5 929.7 L534.8 931.6 L535.1 933.6 L535.4 935.6 L535.8 937.6 L536.1 939.6 L536.4 941.5 L536.7 943.5 L537 945.5 L537.3 947.5 L537.6 949.4 L537.9 951.4 L538.2 953.4 L538.5 955.4 L538.8 957.4 L539.1 959.3 L539.4 961.3 L539.7 963.3 L540 965.3 L540.3 967.3 L540.6 969.2 L540.9 971.2 L541.2 973.2 L541.6 975.2 L541.9 977.1 L542.2 979.1 L542.5 981.1 L542.9 983.1 L543.2 985 L543.6 987 L543.9 989 L544.3 991 L544.6 992.9 L545 994.9 L545.3 996.9 L545.7 998.8 L546.1 1000.8 L546.5 1002.8 L546.8 1004.7 L547.2 1006.7 L547.6 1008.7 L548.1 1010.6 L548.5 1012.6 L548.9 1014.5 L549.4 1016.5 L549.8 1018.4 L550.3 1020.4 L550.7 1022.3 L551.2 1024.3 L551.7 1026.2 L552.2 1028.2 L552.7 1030.1 L553.1 1032 L553.6 1034 L554.1 1035.9 L554.6 1037.9 L555.1 1039.8 L555.6 1041.8 L556.1 1043.7 L556.5 1045.7 L557 1047.6 L557.6 1049.5 L558.1 1051.5 L558.6 1053.4 L559.2 1055.3 L559.7 1057.2 L560.3 1059.1 L560.9 1061 L561.5 1063 L562.2 1064.9 L562.8 1066.8 L563.6 1068.6 L564.4 1070.5 L565.2 1072.3 L566.2 1074 L567.1 1075.8 L568.1 1077.5 L569.2 1079.3 L570.2 1081 L571.3 1082.7 L572.3 1084.4 L573.4 1086 L574.6 1087.7 L575.7 1089.4 L576.8 1091 L578 1092.6 L579.3 1094.2 L580.5 1095.8 L581.8 1097.3 L583.1 1098.8 L584.4 1100.3 L585.7 1101.8 L587.1 1103.3 L588.5 1104.7 L590 1106.1 L591.6 1107.3 L593.3 1108.4 L595.1 1109.3 L597 1110.1 L598.9 1110.7 L600.8 1111.2 L602.8 1111.7 L604.7 1112.2 L606.7 1112.6 L608.6 1113 L610.6 1113.4 L612.5 1113.9 L614.4 1114.6 L616.1 1115.6 L617.7 1116.7 L619.4 1118 L621 1119.2 L622.7 1120.3 L624.5 1121.2 L626.4 1121.8 L628.4 1122.2 L630.4 1122.6 L632.4 1122.8 L634.4 1123 L636.4 1123.2 L638.3 1123.3 L640.3 1123.3 L642.3 1123.1 L644.4 1122.8 L646.4 1122.7 L648.3 1122.7 L650.3 1123 L652.1 1123.8 L653.9 1124.9 L655.6 1126.1 L657.3 1127.4 L659 1128.5 L660.7 1129.4 L662.6 1129.8 L664.6 1129.9 L666.6 1130 L668.6 1129.9 L670.6 1129.7 L672.7 1129.5 L674.7 1129.2 L676.6 1128.9 L678.5 1128.5 L680.4 1127.8 L682.3 1127.1 L684.2 1126.2 L686.1 1125.3 L688 1124.5 L689.9 1123.7 L691.8 1123.1 L693.7 1122.8 L695.6 1122.7 L697.5 1122.9 L699.4 1123.4 L701.3 1124 L703.2 1124.7 L705.1 1125.5 L707.1 1126.3 L709 1127.1 L710.9 1127.8 L712.8 1128.3 L714.8 1128.7 L716.7 1128.9 L718.7 1129 L720.7 1129.2 L722.7 1129.3 L724.8 1129.4 L726.8 1129.4 L728.8 1129.6 L730.8 1129.7 L732.8 1129.9 L734.7 1130.1 L736.7 1130.5 L738.6 1131 L740.6 1131.7 L742.5 1132.4 L744.5 1133.2 L746.4 1133.9 L748.4 1134.7 L750.3 1135.5 L752.3 1136.2 L754.2 1136.8 L756.1 1137.3 L758.1 1137.7 L760 1137.9 L762 1137.9 L763.9 1137.7 L765.9 1137.3 L767.8 1136.8 L769.7 1136.3 L771.7 1135.8 L773.6 1135.4 L775.6 1134.9 L777.5 1134.4 L779.5 1133.9 L781.4 1133.4 L783.3 1132.9 L785.3 1132.4 L787.2 1131.9 L789.2 1131.5 L791.1 1131 L793.1 1130.5 L795 1130 L796.9 1129.5 L798.9 1129 L800.8 1128.6 L802.8 1128.1 L804.7 1127.6 L806.7 1127.1 L808.6 1126.6 L810.5 1126.1 L812.5 1125.7 L814.4 1125.2 L816.4 1124.8 L818.3 1124.6 L820.3 1124.6 L822.3 1124.7 L824.3 1125 L826.3 1125.5 L828.3 1125.9 L830.3 1126.4 L832.3 1126.9 L834.3 1127.3 L836.3 1127.7 L838.3 1127.9 L840.3 1128 L842.2 1127.9 L844.2 1127.6 L846.2 1127.2 L848.2 1126.8 L850.2 1126.3 L852.2 1125.9 L854.2 1125.5 L856.1 1125.3 L858 1125.2 L859.9 1125.5 L861.8 1126.2 L863.7 1127 L865.6 1128 L867.5 1128.9 L869.4 1129.7 L871.3 1130.2 L873.2 1130.4 L875.1 1130.2 L877 1129.7 L878.8 1129 L880.7 1128.1 L882.6 1127.2 L884.5 1126.2 L886.4 1125.2 L888.3 1124.4 L890.2 1123.7 L892.1 1123.2 L894 1123.1 L895.9 1123.5 L897.8 1124.2 L899.6 1125.2 L901.5 1126.3 L903.4 1127.1 L905.3 1127.6 L907.1 1127.6 L909 1127.1 L910.9 1126.2 L912.8 1125.2 L914.7 1124.1 L916.5 1123.2 L918.4 1122.4 L920.3 1122.1 L922.2 1122.2 L924.1 1122.5 L926 1122.8 L928 1123.3 L929.9 1123.7 L931.9 1124.1 L933.9 1124.6 L935.9 1125 L937.9 1125.3 L939.9 1125.6 L941.9 1125.8 L943.9 1126 L945.9 1126.2 L947.9 1126.5 L949.9 1126.6 L951.9 1126.8 L953.9 1126.9 L955.9 1126.9 L957.9 1126.9 L959.9 1126.7 L961.9 1126.4 L963.8 1126.1 L965.8 1125.6 L967.7 1125.1 L969.6 1124.5 L971.6 1123.9 L973.5 1123.4 L975.5 1122.9 L977.4 1122.5 L979.4 1122.2 L981.4 1122 L983.4 1121.8 L985.4 1121.7 L987.4 1121.6 L989.4 1121.5 L991.5 1121.4 L993.5 1121.3 L995.5 1121.3 L997.5 1121.1 L999.5 1121 L1001.4 1120.8 L1003.4 1120.5 L1005.2 1119.9 L1007 1119 L1008.8 1117.9 L1010.5 1116.6 L1012.2 1115.3 L1013.9 1113.9 L1015.6 1112.7 L1017.3 1111.6 L1019 1110.8 L1020.8 1110.3 L1022.6 1110.2 L1024.5 1110.5 L1026.3 1111.1 L1028.2 1111.9 L1030.1 1112.9 L1032 1113.9 L1033.9 1114.9 L1035.8 1115.7 L1037.7 1116.4 L1039.6 1116.8 L1041.6 1116.8 L1043.6 1116.5 L1045.6 1116.2 L1047.6 1116.1 L1049.6 1116.3 L1051.5 1116.8 L1053.4 1117.5 L1055.2 1118.3 L1057.1 1119.1 L1059 1120 L1060.9 1120.7 L1062.8 1121.3 L1064.7 1121.8 L1066.6 1122 L1068.7 1122.1 L1070.7 1122.2 L1072.7 1122.2 L1074.7 1122.1 L1076.8 1121.9 L1078.8 1121.8 L1080.7 1121.5 L1082.6 1121.2 L1084.5 1120.7 L1086.4 1120 L1088.3 1119.2 L1090.2 1118.4 L1092.1 1117.6 L1094 1116.9 L1096 1116.4 L1097.9 1116.2 L1099.8 1116.3 L1101.7 1116.7 L1103.6 1117.4 L1105.5 1118.2 L1107.4 1119.1 L1109.3 1120 L1111.3 1120.7 L1113.2 1121.2 L1115.1 1121.4 L1117.1 1121.2 L1119.1 1120.8 L1121 1120.1 L1123 1119.4 L1125 1118.8 L1126.9 1118.3 L1128.9 1118 L1130.8 1118 L1132.8 1118.4 L1134.8 1118.8 L1136.7 1119.1 L1138.7 1119.5 L1140.7 1119.9 L1142.6 1120.3 L1144.6 1120.7 L1146.5 1121.1 L1148.5 1121.6 L1150.5 1122 L1152.4 1122.4 L1154.4 1122.8 L1156.4 1123.2 L1158.3 1123.6 L1160.3 1124.1 L1162.2 1124.5 L1164.2 1125 L1166.1 1125.4 L1168.1 1125.8 L1170 1126.2 L1172 1126.2 L1173.8 1125.7 L1175.5 1124.7 L1177.2 1123.5 L1179 1122.2 L1180.7 1121 L1182.6 1120 L1184.5 1119.5 L1186.5 1119.1 L1188.5 1118.7 L1190.5 1118.3 L1192.5 1118 L1194.5 1117.6 L1196.5 1117.3 L1198.5 1117 L1200.5 1116.8 L1202.4 1116.5 L1204.4 1116.3 L1206.4 1116.2 L1208.4 1116 L1210.4 1115.9 L1212.4 1115.8 L1214.4 1115.8 L1216.4 1115.8 L1218.3 1116 L1220.3 1116.2 L1222.3 1116.6 L1224.3 1117 L1226.3 1117.4 L1228.3 1117.8 L1230.3 1118.2 L1232.2 1118.6 L1234.2 1118.9 L1236.2 1119 L1238.2 1119.1 L1240.2 1119 L1242.2 1118.8 L1244.1 1118.5 L1246.1 1118.1 L1248.1 1117.7 L1250 1117.2 L1252 1116.7 L1253.9 1116.2 L1255.9 1115.7 L1257.8 1115.2 L1259.8 1114.7 L1261.7 1114.2 L1263.7 1113.7 L1265.6 1113.3 L1267.6 1112.9 L1269.5 1112.6 L1271.5 1112.3 L1273.5 1112.1 L1275.5 1111.9 L1277.5 1111.7 L1279.6 1111.6 L1281.6 1111.5 L1283.6 1111.4 L1285.6 1111.4 L1287.5 1111.4 L1289.4 1111.7 L1291.3 1112.4 L1293.1 1113.4 L1294.8 1114.6 L1296.6 1115.8 L1298.4 1116.8 L1300.2 1117.5 L1302.1 1117.7 L1304 1117.4 L1305.9 1116.8 L1307.8 1115.9 L1309.7 1114.9 L1311.7 1114 L1313.6 1113.5 L1315.5 1113.3 L1317.4 1113.6 L1319.3 1114.3 L1321.1 1115.2 L1323 1116.2 L1324.9 1117.1 L1326.8 1118 L1328.7 1118.6 L1330.6 1118.9 L1332.5 1118.8 L1334.4 1118.3 L1336.2 1117.6 L1338 1116.7 L1339.9 1115.7 L1341.7 1114.6 L1343.5 1113.5 L1345.3 1112.5 L1347.2 1111.5 L1349 1110.8 L1350.9 1110.2 L1352.7 1109.9 L1354.7 1109.9 L1356.7 1110.2 L1358.7 1110.7 L1360.7 1111.1 L1362.7 1111.4 L1364.7 1111.5 L1366.6 1111.2 L1368.5 1110.7 L1370.4 1110 L1372.3 1109.3 L1374.1 1108.4 L1376 1107.5 L1377.8 1106.6 L1379.7 1105.6 L1381.5 1104.7 L1383.4 1103.9 L1385.2 1103.2 L1387.1 1102.6 L1389 1102.2 L1391 1101.9 L1393 1102 L1395 1102.3 L1397 1102.7 L1399 1103.1 L1401 1103.3 L1402.9 1103.3 L1404.9 1102.9 L1406.8 1102.4 L1408.7 1101.7 L1410.6 1100.9 L1412.5 1100 L1414.4 1099.3 L1416.3 1098.7 L1418.2 1098.2 L1420.1 1098.1 L1422.1 1098.6 L1424 1099.4 L1426 1100.2 L1428 1100.7 L1429.9 1100.5 L1431.8 1099.8 L1433.6 1099 L1435.4 1098.2 L1437.2 1097.2 L1439 1096.2 L1440.7 1095.3 L1442.5 1094.3 L1444.3 1093.4 L1446.1 1092.5 L1448 1091.8 L1449.8 1091.2 L1451.7 1090.5 L1453.6 1089.8 L1455.5 1089.2 L1457.4 1088.6 L1459.4 1088 L1461.3 1087.5 L1463.2 1087 L1465.2 1086.5 L1467.2 1086.1 L1469.1 1085.9 L1471.2 1085.8 L1473.2 1085.8 L1475.2 1085.9 L1477.2 1086 L1479.2 1086.2 L1481.2 1086.7 L1483.1 1087.7 L1485 1088.7 L1486.9 1089.2 L1488.7 1088.6 L1490.5 1087.7 L1492.3 1086.8 L1494 1085.8 L1495.8 1084.8 L1497.5 1083.9 L1499.3 1083 L1501.1 1082.1 L1502.9 1081.2 L1504.7 1080.3 L1506.5 1079.4 L1508.3 1078.6 L1510.2 1077.8 L1512 1077" stroke="#c0c0c0" stroke-width="14.0" stroke-linejoin="round"/>
</g>
<g id="legend"><g shape-rendering="crispEdges"><rect x="1071.5" y="63.5" width="434" height="442" fill="#fff" stroke="#000" stroke-width="3"/><rect x="1080" y="105" width="155" height="14" fill="#000"/><rect x="1080" y="191" width="38" height="14" fill="#f00"/><rect x="1145" y="191" width="2" height="14" fill="#f00"/><rect x="1174" y="191" width="38" height="14" fill="#f00"/><rect x="1080" y="278" width="2" height="14" fill="#00f"/><rect x="1103" y="278" width="2" height="14" fill="#00f"/><rect x="1126" y="278" width="2" height="14" fill="#00f"/><rect x="1150" y="278" width="2" height="14" fill="#00f"/><rect x="1173" y="278" width="2" height="14" fill="#00f"/><rect x="1196" y="278" width="2" height="14" fill="#00f"/><rect x="1219" y="278" width="2" height="14" fill="#00f"/><rect x="1080" y="364" width="21" height="14" fill="#f0f"/><rect x="1134" y="364" width="21" height="14" fill="#f0f"/><rect x="1188" y="364" width="21" height="14" fill="#f0f"/><rect x="1080" y="450" width="155" height="14" fill="#c0c0c0"/></g><g id="legendlabels" filter="url(#bin)"><text transform="translate(1253.6 136.2) scale(0.945 1)" font-size="74" fill="#000">Ti</text><text transform="translate(1253.6 222.9) scale(0.945 1)" font-size="74" fill="#000">SiTi(60)</text><text transform="translate(1253.6 309.1) scale(0.945 1)" font-size="74" fill="#000">SiTi(30)</text><text transform="translate(1253.6 395.3) scale(0.945 1)" font-size="74" fill="#000">SiTi(10)</text><text transform="translate(1253.6 481.6) scale(0.945 1)" font-size="74" fill="#000">Si</text></g></g>
</svg>
</body>
</html>
